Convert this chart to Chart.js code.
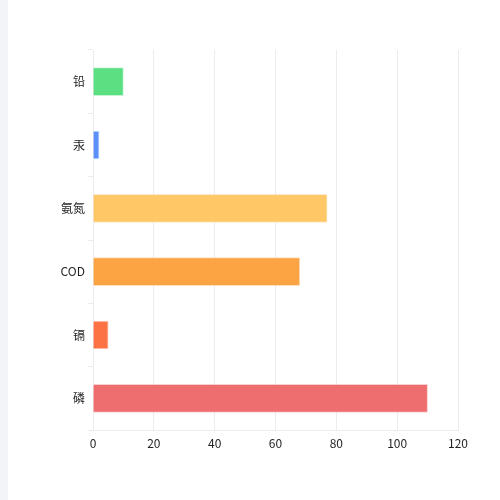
<!DOCTYPE html>
<html>
<head>
<meta charset="utf-8">
<script src="https://cdn.jsdelivr.net/npm/chart.js@4/dist/chart.umd.min.js"></script>
<style>
  html, body { margin: 0; padding: 0; background: #f3f4f8; }
  #wrap { position: absolute; left: 8px; top: 0; width: 492px; height: 500px; background: #fff; }
</style>
</head>
<body>
<div id="wrap"><canvas id="pollutantChart" width="492" height="500"></canvas></div>
<script>
// categories top to bottom
var categories = ['铅', '汞', '氨氮', 'COD', '镉', '磷'];
var values = [10, 2, 77, 68, 5, 110];
var barColors = ['#5ADF82', '#5B8FF9', '#FFC766', '#FCA443', '#FC7245', '#EE6E70'];
var xTicks = [0, 20, 40, 60, 80, 100, 120];

var gridColor = '#ececec';
var textColor = '#1f1f1f';
var fontFamily = '"Noto Sans CJK SC", "Noto Sans", sans-serif';

var ctx = document.getElementById('pollutantChart').getContext('2d');
var chart = new Chart(ctx, {
    type: 'bar',
    data: {
        labels: categories,
        datasets: [{
            data: values,
            backgroundColor: barColors,
            borderColor: barColors.map(function (c) { return c + '55'; }),
            borderWidth: 1,
            barThickness: 28
        }]
    },
    options: {
        indexAxis: 'y',
        responsive: false,
        animation: false,
        devicePixelRatio: 1,
        layout: { padding: { left: 0, right: 42, top: 50, bottom: 48 } },
        plugins: {
            legend: { display: false },
            tooltip: { enabled: false }
        },
        scales: {
            x: {
                min: xTicks[0],
                max: xTicks[xTicks.length - 1],
                afterBuildTicks: function (scale) {
                    scale.ticks = xTicks.map(function (v) { return { value: v }; });
                },
                afterFit: function (scale) { scale.height = 22; },
                grid: { color: gridColor, drawTicks: false },
                border: { color: gridColor },
                ticks: {
                    padding: 6,
                    color: textColor,
                    font: { family: fontFamily, size: 12 }
                }
            },
            y: {
                afterFit: function (scale) { scale.width = 85; },
                grid: { color: gridColor, drawOnChartArea: false, tickLength: 5 },
                border: { color: gridColor },
                ticks: {
                    padding: 3,
                    color: textColor,
                    font: { family: fontFamily, size: 12 }
                }
            }
        }
    }
});
</script>
</body>
</html>
